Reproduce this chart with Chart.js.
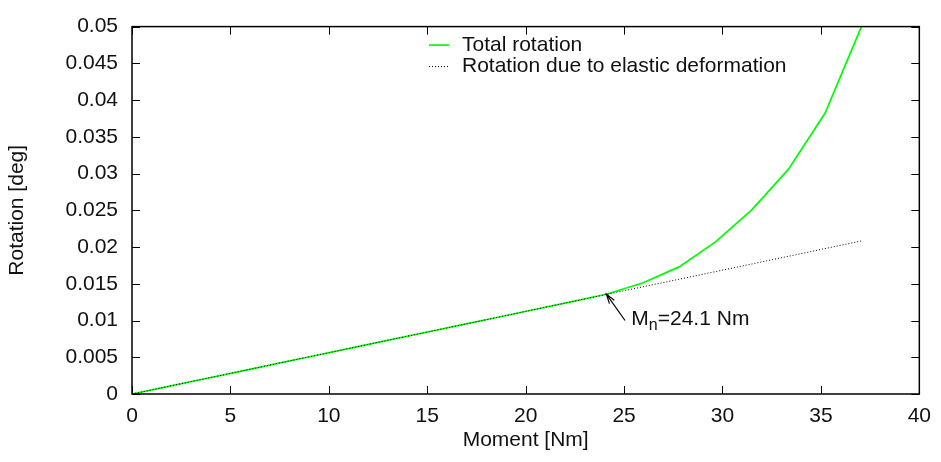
<!DOCTYPE html>
<html>
<head>
<meta charset="utf-8">
<script src="https://cdn.jsdelivr.net/npm/chart.js@4/dist/chart.umd.min.js"></script>
<style>
  html, body { margin: 0; padding: 0; background: #fff; }
  #wrap { width: 941px; height: 462px; position: relative; }
</style>
</head>
<body>
<div id="wrap"><canvas id="myChart"></canvas></div>
<script>
// moment values [Nm]
var moment = [0, 1.853, 3.706, 5.559, 7.412, 9.265, 11.118, 12.971, 14.824, 16.677, 18.53,
              20.383, 22.236, 24.089, 25.942, 27.795, 29.648, 31.501, 33.354, 35.207, 37.06];

// rotation [deg]
var totalRotation = [0, 0.00104, 0.00208, 0.00312, 0.00417, 0.00521, 0.00625, 0.00729, 0.00833, 0.00937, 0.01041,
                     0.01146, 0.0125, 0.01358, 0.0151, 0.0173, 0.0207, 0.0251, 0.0306, 0.0382, 0.0500];
var elasticRotation = [0, 0.00104, 0.00208, 0.00312, 0.00417, 0.00521, 0.00625, 0.00729, 0.00833, 0.00937, 0.01041,
                       0.01146, 0.0125, 0.01354, 0.01458, 0.01562, 0.01666, 0.0177, 0.01874, 0.01979, 0.02083];

var xTicks = [0, 5, 10, 15, 20, 25, 30, 35, 40];
var yTicks = [0, 0.005, 0.01, 0.015, 0.02, 0.025, 0.03, 0.035, 0.04, 0.045, 0.05];

var SERIES1_Name = "Total rotation";
var SERIES2_Name = "Rotation due to elastic deformation";

// annotation: arrow tip, arrow tail, label (data coords)
var noteTip = [24.1, 0.0136];
var noteTail = [25.05, 0.0100];
var noteText = [25.37, 0.0094];
var noteMain = "M", noteSub = "n", noteRest = "=24.1 Nm";

var FONT = "'Liberation Sans', Arial, Helvetica, sans-serif";
Chart.defaults.font.family = FONT;
Chart.defaults.font.size = 21;
Chart.defaults.color = "#111";

function pts(xs, ys){ return xs.map(function(v, k){ return {x: v, y: ys[k]}; }); }

var frame = {
  id: 'frame',
  afterDatasetsDraw: function(chart){
    var ctx = chart.ctx, a = chart.chartArea, sx = chart.scales.x, sy = chart.scales.y;
    ctx.save();
    // inward ticks, mirrored
    ctx.strokeStyle = "#000";
    ctx.lineWidth = 1;
    ctx.beginPath();
    xTicks.forEach(function(v){
      var p = Math.round(sx.getPixelForValue(v)) + 0.5;
      ctx.moveTo(p, a.bottom); ctx.lineTo(p, a.bottom - 8);
      ctx.moveTo(p, a.top); ctx.lineTo(p, a.top + 8);
    });
    yTicks.forEach(function(v){
      var p = Math.round(sy.getPixelForValue(v)) + 0.5;
      ctx.moveTo(a.left, p); ctx.lineTo(a.left + 8, p);
      ctx.moveTo(a.right, p); ctx.lineTo(a.right - 8, p);
    });
    ctx.stroke();
    // box
    ctx.lineWidth = 1.5;
    ctx.strokeRect(a.left, a.top, a.right - a.left, a.bottom - a.top);

    // legend
    ctx.font = "21px " + FONT;
    ctx.fillStyle = "#111";
    ctx.textBaseline = "middle";
    ctx.textAlign = "left";
    var lx0 = a.left + 297, lx1 = a.left + 317, tx = a.left + 330;
    var r1 = a.top + 18.5, r2 = a.top + 40;
    ctx.strokeStyle = "#00ff00"; ctx.lineWidth = 1.7;
    ctx.beginPath(); ctx.moveTo(lx0, r1); ctx.lineTo(lx1, r1); ctx.stroke();
    ctx.fillText(SERIES1_Name, tx, r1);
    ctx.strokeStyle = "#000"; ctx.lineWidth = 1; ctx.setLineDash([1, 2]);
    ctx.beginPath(); ctx.moveTo(lx0, r2); ctx.lineTo(lx1, r2); ctx.stroke();
    ctx.setLineDash([]);
    ctx.fillText(SERIES2_Name, tx, r2);

    // annotation arrow
    var tipX = sx.getPixelForValue(noteTip[0]), tipY = sy.getPixelForValue(noteTip[1]);
    var tailX = sx.getPixelForValue(noteTail[0]), tailY = sy.getPixelForValue(noteTail[1]);
    var ang = Math.atan2(tailY - tipY, tailX - tipX);
    ctx.strokeStyle = "#000"; ctx.lineWidth = 1.2;
    ctx.beginPath();
    ctx.moveTo(tailX, tailY); ctx.lineTo(tipX, tipY);
    ctx.moveTo(tipX + 10 * Math.cos(ang + 0.3), tipY + 10 * Math.sin(ang + 0.3));
    ctx.lineTo(tipX, tipY);
    ctx.lineTo(tipX + 10 * Math.cos(ang - 0.3), tipY + 10 * Math.sin(ang - 0.3));
    ctx.stroke();
    // annotation text with subscript
    var bx = sx.getPixelForValue(noteText[0]), by = sy.getPixelForValue(noteText[1]);
    ctx.textBaseline = "alphabetic";
    ctx.font = "21px " + FONT;
    ctx.fillText(noteMain, bx, by);
    var w = ctx.measureText(noteMain).width;
    ctx.font = "16px " + FONT;
    ctx.fillText(noteSub, bx + w, by + 5);
    w += ctx.measureText(noteSub).width;
    ctx.font = "21px " + FONT;
    ctx.fillText(noteRest, bx + w, by);
    ctx.restore();
  }
};

new Chart("myChart", {
  type: "line",
  data: {
    datasets: [
      {
        data: pts(moment, elasticRotation),
        borderColor: "#000",
        borderWidth: 1,
        borderDash: [1, 2],
        pointRadius: 0,
        label: SERIES2_Name,
        order: 0
      },
      {
        data: pts(moment, totalRotation),
        borderColor: "#00ff00",
        borderWidth: 1.7,
        pointRadius: 0,
        label: SERIES1_Name,
        order: 1
      }
    ]
  },
  options: {
    responsive: true,
    maintainAspectRatio: false,
    animation: false,
    layout: { padding: { top: 18, right: 19, left: 0, bottom: 0 } },
    plugins: { legend: { display: false }, tooltip: { enabled: false } },
    scales: {
      x: {
        type: "linear", min: 0, max: 40,
        grid: { display: false, drawTicks: false },
        border: { display: false },
        afterBuildTicks: function(s){ s.ticks = xTicks.map(function(v){ return {value: v}; }); },
        afterFit: function(s){ s.height = 68; },
        ticks: { padding: 10, maxRotation: 0, color: "#111", callback: function(v){ return String(v); } },
        title: { display: true, text: "Moment [Nm]", color: "#111", padding: { top: 0, bottom: 9 } }
      },
      y: {
        type: "linear", min: 0, max: 0.05,
        grid: { display: false, drawTicks: false },
        border: { display: false },
        afterBuildTicks: function(s){ s.ticks = yTicks.map(function(v){ return {value: v}; }); },
        afterFit: function(s){ s.width = 132; },
        ticks: { padding: 14, color: "#111", callback: function(v){ return String(+v.toFixed(3)); } },
        title: { display: true, text: "Rotation [deg]", color: "#111", padding: { top: 5, bottom: 0 } }
      }
    }
  },
  plugins: [frame]
});
</script>
</body>
</html>
